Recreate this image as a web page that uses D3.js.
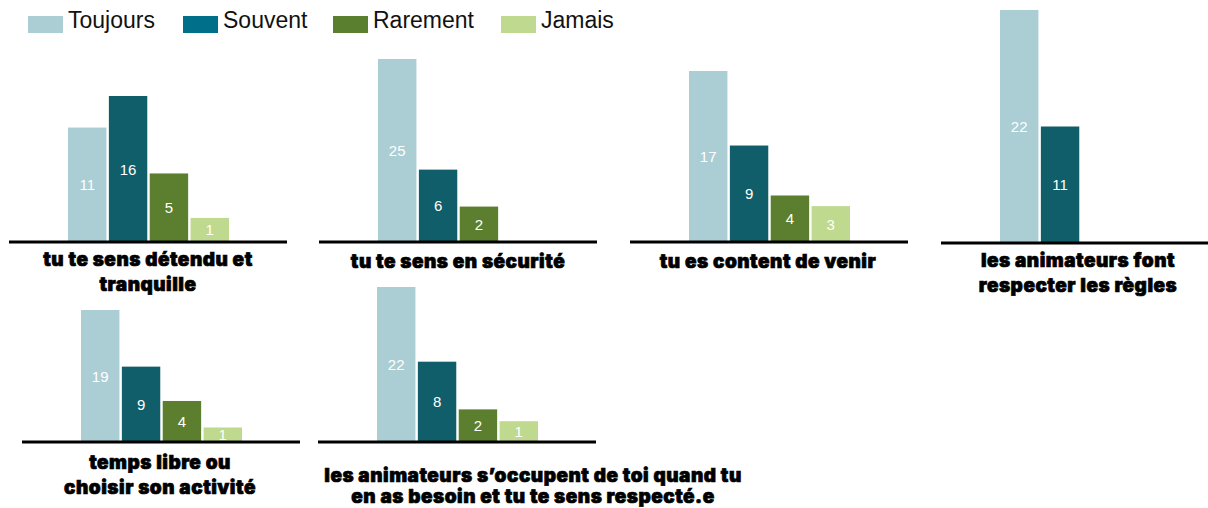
<!DOCTYPE html>
<html>
<head>
<meta charset="utf-8">
<script src="https://cdn.jsdelivr.net/npm/d3@7"></script>
<style>
  body { margin: 0; background: #fff; }
  svg { display: block; }
  .legend text { font-family: "Liberation Sans", Arial, sans-serif; font-size: 23px; fill: #111; }
  .value { font-family: "Liberation Sans", Arial, sans-serif; font-size: 15px; fill: #fff; }
  .title { font-family: Inter, "Liberation Sans", sans-serif; font-weight: 900; font-size: 19px;
           letter-spacing: 0.5px; fill: #000; stroke: #000; stroke-width: 0.7px; }
</style>
</head>
<body>
<div id="chart"></div>
<script>
// answers, in the legend's order
const categories = ["Toujours", "Souvent", "Rarement", "Jamais"];

// one question per panel (title lines)
const questions = [
  ["tu te sens détendu et", "tranquille"],
  ["tu te sens en sécurité"],
  ["tu es content de venir"],
  ["les animateurs font", "respecter les règles"],
  ["temps libre ou", "choisir son activité"],
  ["les animateurs s’occupent de toi quand tu", "en as besoin et tu te sens respecté.e"],
];

// counts per question (Toujours, Souvent, Rarement, Jamais), null = no bar
const toujours = [11, 25, 17, 22, 19, 22];
const souvent = [16, 6, 9, 11, 9, 8];
const rarement = [5, 2, 4, null, 4, 2];
const jamais = [1, null, 3, null, 1, 1];

const colors = ["#abcdd4", "#0f5e69", "#5b7f2e", "#bfd98e"];
const legendColors = ["#abcdd4", "#00708a", "#5a7f2e", "#bfd98e"];

// where each small chart sits on the page; each panel has its own y scale
// (the original graphic is not drawn to one common scale)
const panels = [
  { x0: 9, base: 242, top: 96, exp: 0.65, tx: 148, ty: 266, lh: 25 },
  { x0: 319, base: 242, top: 59, exp: 0.65, tx: 458, ty: 268, lh: 25 },
  { x0: 630, base: 242, top: 71, exp: 0.9, tx: 768, ty: 268, lh: 25 },
  { x0: 941, base: 243, top: 10, exp: 1, tx: 1078, ty: 267, lh: 25 },
  { x0: 22, base: 442, top: 310, exp: 0.75, tx: 160, ty: 469, lh: 25 },
  { x0: 318, base: 442, top: 287, exp: 0.65, tx: 533, ty: 482, lh: 21 },
];

const width = 1208, height = 508;
const svg = d3.select("#chart").append("svg")
  .attr("width", width).attr("height", height);

// legend
const legendX = [28, 183, 333, 501];
const legend = svg.append("g").attr("class", "legend")
  .selectAll("g").data(categories).enter().append("g")
  .attr("transform", (d, i) => "translate(" + legendX[i] + ",16)");
legend.append("rect").attr("width", 35).attr("height", 17)
  .attr("fill", (d, i) => legendColors[i]);
legend.append("text").attr("x", 40).attr("y", 12).text(d => d);

const series = [toujours, souvent, rarement, jamais];

questions.forEach(function (lines, q) {
  const p = panels[q];
  const values = series.map(s => s[q]);
  const data = categories.map((c, i) => ({ cat: c, value: values[i], i: i }))
    .filter(d => d.value != null);

  const x = d3.scaleBand().domain(categories)
    .range([p.x0 + 59, p.x0 + 220]).paddingInner(0.06);
  const y = d3.scalePow().exponent(p.exp)
    .domain([0, d3.max(data, d => d.value)])
    .range([p.base, p.top]);

  const g = svg.append("g");

  g.selectAll("rect").data(data).enter().append("rect")
    .attr("x", d => x(d.cat))
    .attr("width", x.bandwidth())
    .attr("y", d => y(d.value))
    .attr("height", d => p.base - y(d.value))
    .attr("fill", d => colors[d.i]);

  g.selectAll("text.value").data(data).enter().append("text")
    .attr("class", "value")
    .attr("x", d => x(d.cat) + x.bandwidth() / 2)
    .attr("y", d => (y(d.value) + p.base) / 2)
    .attr("text-anchor", "middle")
    .attr("dominant-baseline", "central")
    .text(d => d.value);

  g.append("line")
    .attr("x1", p.x0).attr("x2", p.x0 + 278)
    .attr("y1", p.base).attr("y2", p.base)
    .attr("stroke", "#000").attr("stroke-width", 3);

  g.selectAll("text.title").data(lines).enter().append("text")
    .attr("class", "title")
    .attr("x", p.tx)
    .attr("y", (d, i) => p.ty + i * p.lh)
    .attr("text-anchor", "middle")
    .text(d => d);
});
</script>
</body>
</html>
